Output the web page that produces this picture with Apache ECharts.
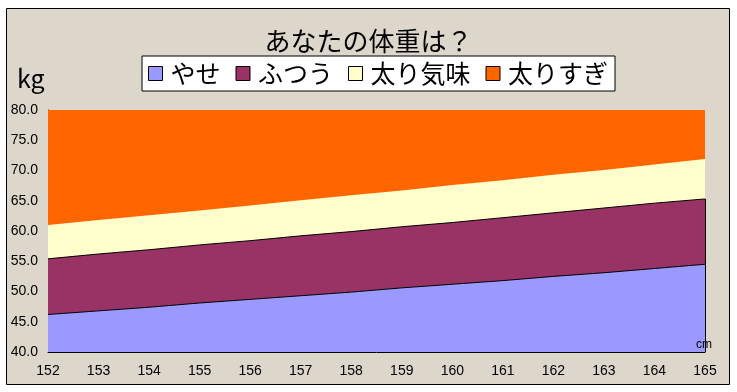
<!DOCTYPE html>
<html><head><meta charset="utf-8">
<script src="https://cdn.jsdelivr.net/npm/echarts@6/dist/echarts.min.js"></script>
<style>html,body{margin:0;padding:0;background:#fff}#c{width:737px;height:392px}</style>
</head><body><div id="c"></div>
<script>
// x categories (cm)
var heights = ['152','153','154','155','156','157','158','159','160','161','162','163','164','165'];
// boundary values (kg)
var yase     = [46.2,46.8,47.4,48.1,48.7,49.3,49.9,50.6,51.2,51.8,52.5,53.1,53.8,54.5];
var futsuu   = [55.4,56.2,56.9,57.7,58.4,59.2,59.9,60.7,61.4,62.2,63.0,63.8,64.6,65.3];
var futorigimi = [61.0,61.8,62.6,63.4,64.2,65.1,65.9,66.7,67.6,68.4,69.3,70.1,71.0,71.9];
var futorisugi = [80,80,80,80,80,80,80,80,80,80,80,80,80,80];
var names = ['やせ','ふつう','太り気味','太りすぎ'];
var colors = ['#9999FF','#993366','#FFFFCC','#FF6600'];
var yTicks = [40,45,50,55,60,65,70,75,80];

var jp = '"Noto Sans CJK JP", sans-serif';
var num = '"Liberation Sans", Arial, sans-serif';

function area(name, data, color, withLine, extra){
  var s = {
    name: name, type: 'line', data: data, symbol: 'none', showSymbol: false,
    itemStyle: {color: color},
    lineStyle: withLine ? {color: '#000', width: 1} : {width: 0, color: color},
    areaStyle: {color: color, opacity: 1, origin: 'start'},
    emphasis: {disabled: true}, silent: true
  };
  if (extra) Object.assign(s, extra);
  return s;
}

var chart = echarts.init(document.getElementById('c'), null, {renderer: 'canvas'});
chart.setOption({
  animation: false,
  backgroundColor: '#ffffff',
  graphic: [
    {type: 'rect', z: -100, shape: {x: 6.5, y: 8.5, width: 723, height: 376},
     style: {fill: '#ddd6cb', stroke: '#000', lineWidth: 1}},
    {type: 'text', z: 100, left: 17, top: 66,
     style: {text: 'kg', font: '25px ' + jp, fill: '#000'}},
    {type: 'text', z: 100, left: 696, top: 339,
     style: {text: 'cm', font: '12px ' + num, fill: '#000'}}
  ],
  title: {
    text: 'あなたの体重は？', left: 'center', top: 23,
    textStyle: {fontFamily: jp, fontSize: 26, fontWeight: 'normal', color: '#000'}
  },
  legend: {
    left: 142, top: 56, orient: 'horizontal',
    data: names.map(function(n, i){
      return {name: n, icon: 'rect', itemStyle: {color: colors[i], borderColor: '#000', borderWidth: 1}};
    }),
    itemWidth: 14, itemHeight: 14, itemGap: 15,
    backgroundColor: '#ffffff', borderColor: '#000', borderWidth: 1,
    padding: [5, 7, 5, 6],
    textStyle: {fontFamily: jp, fontSize: 25, color: '#000', padding: [0, 0, 0, 3]},
    selectedMode: false
  },
  grid: {left: 48, right: 32, top: 110, bottom: 40},
  xAxis: {
    type: 'category', data: heights, boundaryGap: false,
    axisLine: {lineStyle: {color: '#000', width: 1}},
    axisTick: {inside: true, length: 5, lineStyle: {color: '#000'}},
    axisLabel: {fontFamily: num, fontSize: 14, color: '#000', margin: 12, interval: 0},
    splitLine: {show: false}
  },
  yAxis: {
    type: 'value', min: yTicks[0], max: yTicks[yTicks.length-1], interval: 5,
    axisLine: {show: true, lineStyle: {color: '#000', width: 1}},
    axisTick: {show: true, inside: true, length: 4, lineStyle: {color: '#000'}},
    axisLabel: {fontFamily: num, fontSize: 14, color: '#000', margin: 10,
      formatter: function(v){ return v.toFixed(1); }},
    splitLine: {show: false}
  },
  series: [
    area(names[3], futorisugi, colors[3], false),
    area(names[2], futorigimi, colors[2], false),
    area(names[1], futsuu, colors[1], true, {
      markLine: {silent: true, symbol: 'none', label: {show: false},
        lineStyle: {color: '#000', width: 1, type: 'solid'},
        data: [[{coord: [heights[heights.length-1], yTicks[0]]},
                {coord: [heights[heights.length-1], futsuu[futsuu.length-1]]}]]}
    }),
    area(names[0], yase, colors[0], true)
  ]
});
</script></body></html>
